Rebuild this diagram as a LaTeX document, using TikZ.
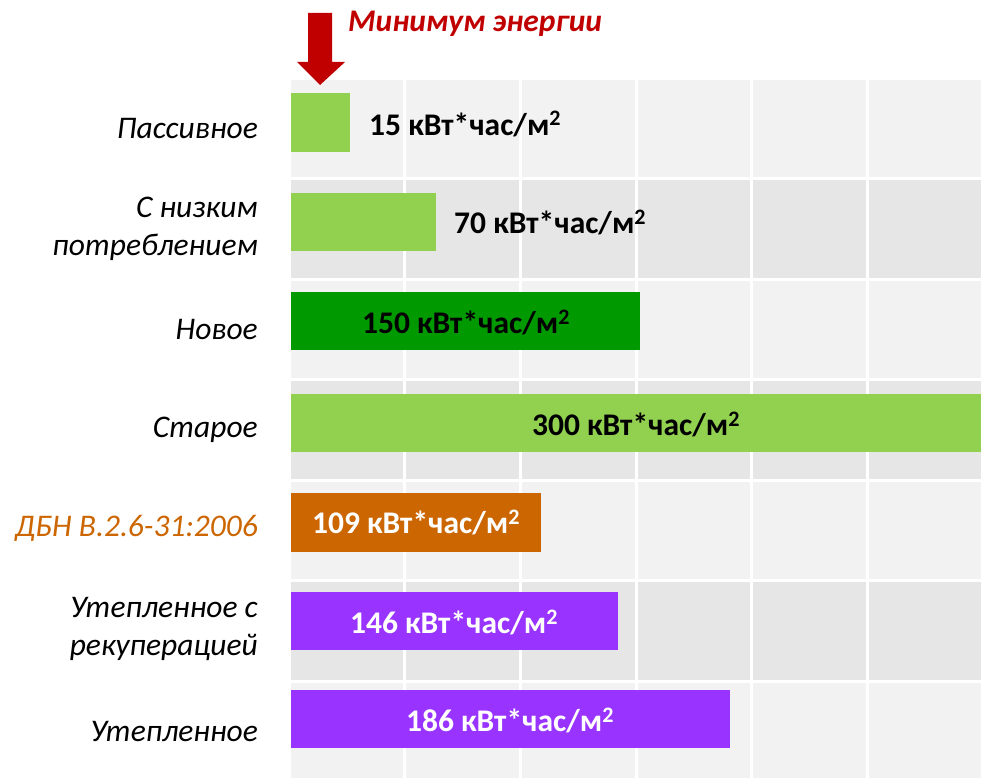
\documentclass[tikz,border=0pt]{standalone}
\usepackage{fontspec}
\setmainfont{Carlito}
\definecolor{cellA}{HTML}{F2F2F2}
\definecolor{cellB}{HTML}{E6E6E6}
\definecolor{lgreen}{HTML}{92D050}
\definecolor{dgreen}{HTML}{009900}
\definecolor{orng}{HTML}{CC6600}
\definecolor{purp}{HTML}{9933FF}
\definecolor{dred}{HTML}{C00000}
\begin{document}
\begin{tikzpicture}[x=1pt,y=-1pt,
  rowlabel/.style={anchor=east,align=right,inner sep=0pt,
    font=\fontsize{31.5}{38}\selectfont\itshape},
  value/.style={inner sep=0pt,font=\fontsize{31.5}{34}\selectfont\bfseries},
  bar/.style={draw=none,inner sep=0pt}]
\useasboundingbox (0,0) rectangle (981,778);
% background bands, alternating shades
\foreach \t/\b/\c in {80/178.5/cellA,178.5/279/cellB,279/379.5/cellA,379.5/480.5/cellB,480.5/580.5/cellA,580.5/681/cellB,681/778/cellA}
  \fill[\c] (289,\t) rectangle (981,\b);
% white grid lines
\foreach \y in {178.5,279,379.5,480.5,580.5,681}
  \draw[white,line width=3pt] (289,\y) -- (981,\y);
\foreach \x in {404,520,636,751.5,867}
  \draw[white,line width=3pt] (\x,80) -- (\x,778);
\draw[white,line width=2pt] (290,80) -- (290,778);
% bars
\fill[lgreen] (291,93) rectangle (350,152);
\fill[lgreen] (291,193) rectangle (436,251);
\fill[dgreen] (291,292) rectangle (640,350);
\fill[lgreen] (291,394) rectangle (981,452);
\fill[orng] (291,493) rectangle (541,552);
\fill[purp] (291,592) rectangle (618,650);
\fill[purp] (291,690) rectangle (730,748);
% values
\node[value,anchor=west] (v1) at (369,124) {15 кВт*час/м\textsuperscript{2}};
\node[value,anchor=west] (v2) at (454,222) {70 кВт*час/м\textsuperscript{2}};
\node[value] (v3) at (466,322) {150 кВт*час/м\textsuperscript{2}};
\node[value] (v4) at (636,424) {300 кВт*час/м\textsuperscript{2}};
\node[value,white] (v5) at (416,522) {109 кВт*час/м\textsuperscript{2}};
\node[value,white] (v6) at (454,622) {146 кВт*час/м\textsuperscript{2}};
\node[value,white] (v7) at (510,720) {186 кВт*час/м\textsuperscript{2}};
% row labels
\node[rowlabel] (l1) at (258,129) {Пассивное};
\node[rowlabel] (l2) at (258,229) {С низким\\потреблением};
\node[rowlabel] (l3) at (258,329) {Новое};
\node[rowlabel] (l4) at (258,430) {Старое};
\node[rowlabel,text=orng] (l5) at (258,528) {ДБН В.2.6-31:2006};
\node[rowlabel] (l6) at (258,629) {Утепленное с\\рекуперацией};
\node[rowlabel] (l7) at (258,731) {Утепленное};
% marker arrow and caption
\fill[dred] (308,13) -- (332,13) -- (332,62) -- (345,62) -- (320,85) -- (297,62) -- (308,62) -- cycle;
\node[anchor=west,inner sep=0pt,text=dred,font=\fontsize{31.5}{34}\selectfont\bfseries\itshape] (title) at (348,24) {Минимум энергии};
\end{tikzpicture}
\end{document}
